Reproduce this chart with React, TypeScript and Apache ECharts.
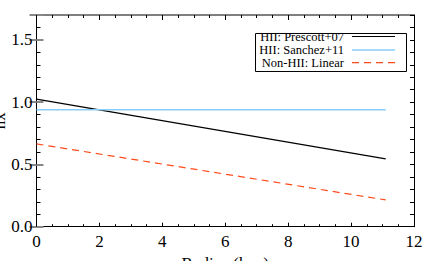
import React, { useEffect, useRef } from "react";
import * as echarts from "echarts";

const radius = [0, 11.1];
const prescott = [1.025, 0.545];
const sanchez = [0.94, 0.94];
const nonHII = [0.665, 0.215];
const legendLabels = ["HII: Prescott+07", "HII: Sanchez+11", "Non-HII: Linear"];
const xTitle = "Radius (kpc)";
const yTitle = "nx";

const FONT = "'Liberation Serif', 'Times New Roman', serif";

export default function App() {
  const ref = useRef<HTMLDivElement>(null);
  useEffect(() => {
    document.body.style.margin = "0";
    const chart = echarts.init(ref.current!, null, { renderer: "svg" });
    const mk = (ys: number[]) => radius.map((x, i) => [x, ys[i]]);
    const baseX = {
      type: "value" as const,
      min: 0,
      max: 12,
      interval: 2,
      splitLine: { show: false },
      axisLine: { show: true, onZero: false, lineStyle: { color: "#000", width: 1 } },
      axisTick: { show: true, inside: true, length: 4, lineStyle: { color: "#000" } },
      minorTick: { show: true, splitNumber: 4, length: 2.5, lineStyle: { color: "#000" } },
      minorSplitLine: { show: false },
    };
    const yMinor = (pos: "left" | "right", labels: boolean) => ({
      type: "value" as const,
      position: pos,
      offset: 0,
      min: 0,
      max: 1.7,
      interval: 0.1,
      splitLine: { show: false },
      axisLine: { show: true, onZero: false, lineStyle: { color: "#000", width: 1 } },
      axisTick: { show: true, inside: true, length: 4, lineStyle: { color: "#000" } },
      axisLabel: labels
        ? {
            show: true,
            fontFamily: FONT,
            fontSize: 17,
            color: "#000",
            margin: 4,
            formatter: (v: number) =>
              Math.abs(v * 2 - Math.round(v * 2)) < 1e-6 && v < 1.65 ? v.toFixed(1) : "",
          }
        : { show: false },
      name: labels ? yTitle : "",
      nameLocation: "middle" as const,
      nameGap: 29,
      nameMoveOverlap: false,
      nameTextStyle: { fontFamily: FONT, fontSize: 17, color: "#000" },
    });
    const yMajor = (pos: "left" | "right") => ({
      type: "value" as const,
      position: pos,
      offset: 0,
      min: 0,
      max: 1.7,
      interval: 0.5,
      splitLine: { show: false },
      axisLine: { show: false },
      axisTick: { show: true, inside: true, length: 7, lineStyle: { color: "#888", width: 2 } },
      axisLabel: { show: false },
    });
    const rows = [36.5, 50, 62.7];
    const legendStyles = [
      { stroke: "#000", lineWidth: 1.2 },
      { stroke: "#87cefa", lineWidth: 1.5 },
      { stroke: "#ff4a1a", lineWidth: 1.2, lineDash: [7, 5] },
    ];
    const graphic: any[] = [
      {
        type: "rect",
        shape: { x: 255.5, y: 33.5, width: 151, height: 38 },
        style: { fill: "#fff", stroke: "#000", lineWidth: 1 },
        z: 100,
      },
    ];
    legendLabels.forEach((t, i) => {
      graphic.push({
        type: "text",
        x: 344,
        y: rows[i],
        style: {
          text: t,
          fontFamily: FONT,
          fontSize: 12.5,
          fill: "#000",
          align: "right",
          verticalAlign: "middle",
        },
        z: 101,
      });
      graphic.push({
        type: "line",
        shape: { x1: 352, y1: rows[i], x2: 395, y2: rows[i] },
        style: legendStyles[i],
        z: 101,
      });
    });
    chart.setOption({
      animation: false,
      backgroundColor: "#fff",
      textStyle: { fontFamily: FONT },
      grid: {
        left: 36.5,
        right: 11,
        top: 15,
        bottom: 34.3,
        containLabel: false,
        outerBoundsMode: "none",
      },
      xAxis: [
        {
          ...baseX,
          position: "bottom",
          offset: 0,
          axisLabel: { show: true, fontFamily: FONT, fontSize: 17, color: "#000", margin: 6 },
          name: xTitle,
          nameLocation: "middle",
          nameGap: 28,
          nameMoveOverlap: false,
          nameTextStyle: { fontFamily: FONT, fontSize: 17, color: "#000" },
        },
        {
          ...baseX,
          position: "top",
          offset: 0,
          axisLine: { show: true, onZero: false, lineStyle: { color: "#555", width: 1.5 } },
          axisTick: { show: true, inside: true, length: 5, lineStyle: { color: "#000" } },
          minorTick: { show: true, splitNumber: 4, length: 3, lineStyle: { color: "#000" } },
          axisLabel: { show: false },
        },
      ],
      yAxis: [yMinor("left", true), yMajor("left"), yMinor("right", false), yMajor("right")],
      series: [
        {
          name: legendLabels[0],
          type: "line",
          data: mk(prescott),
          symbol: "none",
          lineStyle: { color: "#000", width: 1.2 },
        },
        {
          name: legendLabels[1],
          type: "line",
          data: mk(sanchez),
          symbol: "none",
          lineStyle: { color: "#87cefa", width: 1.5 },
        },
        {
          name: legendLabels[2],
          type: "line",
          data: mk(nonHII),
          symbol: "none",
          lineStyle: { color: "#ff4a1a", width: 1.2, type: [7, 5] },
        },
      ],
      graphic,
    });
    return () => chart.dispose();
  }, []);
  return <div ref={ref} style={{ width: 425, height: 261 }} />;
}
